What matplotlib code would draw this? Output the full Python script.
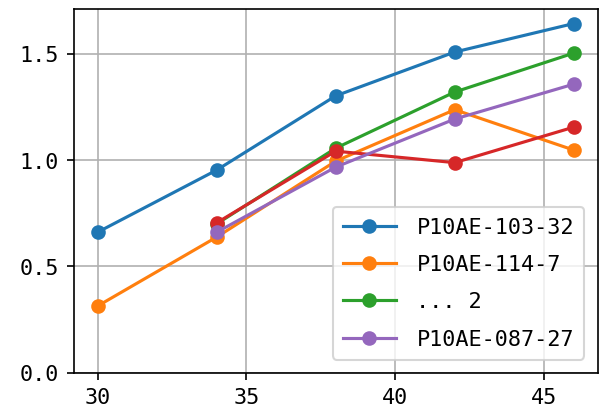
import matplotlib
matplotlib.use("Agg")
import matplotlib.pyplot as plt

plt.rcParams['font.family'] = ['DejaVu Sans Mono']
plt.rcParams['font.size'] = 10.5

x_all = [30, 34, 38, 42, 46]
x_part = [34, 38, 42, 46]

blue = [0.661, 0.953, 1.302, 1.508, 1.642]
orange = [0.314, 0.638, 0.995, 1.237, 1.047]
green = [0.700, 1.056, 1.320, 1.503]
red = [0.705, 1.042, 0.988, 1.155]
purple = [0.661, 0.967, 1.193, 1.357]

labels = ["P10AE-103-32", "P10AE-114-7", "... 2", "_nolegend_", "P10AE-087-27"]
xticks = [30, 35, 40, 45]
yticks = [0.0, 0.5, 1.0, 1.5]
ytick_labels = ["0.0", "0.5", "1.0", "1.5"]

fig = plt.figure(figsize=(4, 2.75), dpi=150)
ax = fig.add_subplot(111)
ax.plot(x_all, blue, marker='o', label=labels[0])
ax.plot(x_all, orange, marker='o', label=labels[1])
ax.plot(x_part, green, marker='o', label=labels[2])
ax.plot(x_part, red, marker='o', label=labels[3])
ax.plot(x_part, purple, marker='o', label=labels[4])
ax.set_ylim(bottom=0)
ax.set_xticks(xticks)
ax.set_yticks(yticks)
ax.set_yticklabels(ytick_labels)
ax.grid(True)
ax.legend(loc='lower right', handlelength=2.4, handletextpad=0.95,
          borderpad=0.48, labelspacing=0.79, borderaxespad=0.6)
fig.subplots_adjust(left=0.123, right=0.996, bottom=0.095, top=0.976)
plt.savefig("out.png")
